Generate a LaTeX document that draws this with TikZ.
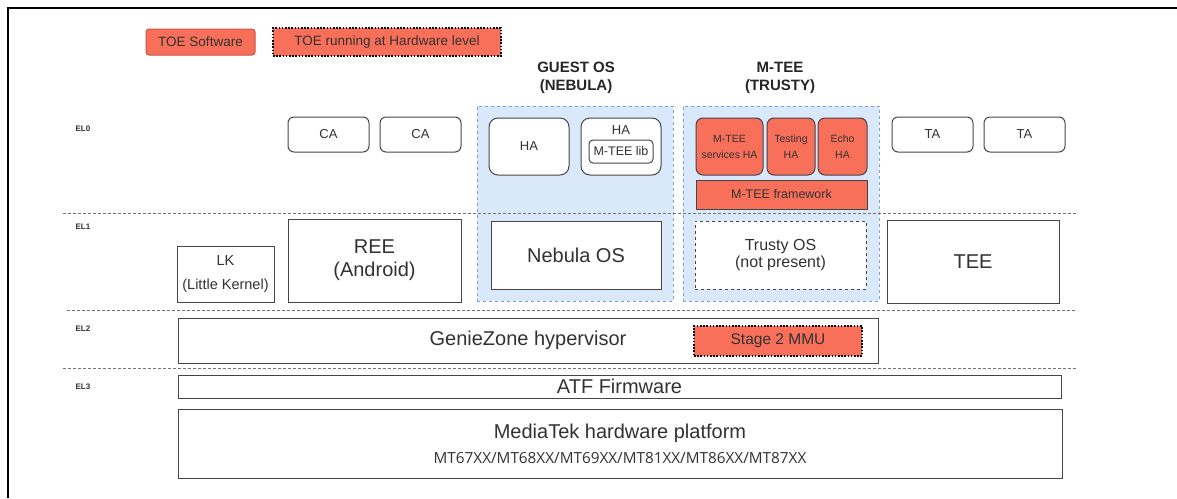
\documentclass[tikz,border=0pt]{standalone}
\usepackage{fontspec}
\setmainfont{Liberation Sans}
\newfontfamily\chipfont{Open Sans}
\usepackage{tikz}
\usetikzlibrary{positioning}
\definecolor{TOERed}{RGB}{248,111,90}
\definecolor{TOEEdge}{RGB}{200,85,70}
\definecolor{ZoneFill}{RGB}{218,232,252}
\definecolor{ZoneEdge}{RGB}{120,160,220}
\definecolor{BoxGray}{RGB}{70,70,70}
\definecolor{TxtGray}{RGB}{50,50,50}

\begin{document}
\begin{tikzpicture}[x=1pt, y=-1pt,
          box/.style={draw=BoxGray, line width=1pt, fill=white, inner sep=0pt,
                      text=TxtGray, align=center, font=\fontsize{20}{23}\selectfont},
          app/.style={box, rounded corners=6pt, font=\fontsize{13}{15}\selectfont},
          toeapp/.style={app, fill=TOERed, rounded corners=7pt,
                      font=\fontsize{10.5}{16}\selectfont},
          hwlevel/.style={box, fill=TOERed, draw=black, line width=2.4pt,
                      dash pattern=on 1.6pt off 1.6pt},
          zone/.style={draw=ZoneEdge, fill=ZoneFill, dashed, line width=0.8pt,
                      inner sep=0pt},
          heading/.style={font=\bfseries\fontsize{15}{18}\selectfont, align=center,
                      text=black!85},
          elvl/.style={anchor=west, font=\bfseries\fontsize{8}{9}\selectfont,
                      text=TxtGray},
          elsep/.style={draw=black!55, line width=0.8pt, dash pattern=on 3pt off 2pt}
        ]
        \useasboundingbox (0,0) rectangle (1177,498);
        \draw[line width=2.5pt] (8,498) -- (8,8) -- (1177,8);

        % Legend
        \node[box, fill=TOERed, draw=TOEEdge, rounded corners=3pt,
              minimum width=109pt, minimum height=26pt,
              font=\fontsize{13.5}{15}\selectfont] (toesw) at (200.5,42) {TOE Software};
        \node[hwlevel, minimum width=228pt, minimum height=28pt,
              font=\fontsize{13.5}{15}\selectfont] (toehw) at (387,42)
              {TOE running at Hardware level};

        % Guest OS and M-TEE areas
        \node[heading] (guesthd) at (576,78) {GUEST OS\\(NEBULA)};
        \node[heading] (mteehd)  at (780,78) {M-TEE\\(TRUSTY)};
        \node[zone, minimum width=196pt, minimum height=195pt] (guest) at (575,203.5) {};
        \node[zone, minimum width=196pt, minimum height=195pt] (mtee)  at (781,203.5) {};

        % Exception level separators
        \draw[elsep] (63,213) -- (1077,213);
        \draw[elsep] (67,310) -- (1077,310);
        \draw[elsep] (63,368.5) -- (1077,368.5);

        \node[elvl] (el0) at (72,129) {EL0};
        \node[elvl] (el1) at (72,227) {EL1};
        \node[elvl] (el2) at (72,329) {EL2};
        \node[elvl] (el3) at (72,387) {EL3};

        % EL0 applications
        \node[app, minimum width=81pt, minimum height=35pt] (ca1) at (328.5,134.5) {CA};
        \node[app, minimum width=81pt, minimum height=35pt] (ca2) at (420.5,134.5) {CA};
        \node[app, rounded corners=9pt, minimum width=80pt, minimum height=57pt]
              (ha1) at (529,146.5) {HA};
        \node[app, rounded corners=9pt, minimum width=80pt, minimum height=57pt]
              (ha2) at (621,146.5) {};
        \node[text=TxtGray, font=\fontsize{13}{15}\selectfont] (ha2txt) at (621,130) {HA};
        \node[app, rounded corners=4pt, minimum width=64pt, minimum height=23pt,
              font=\fontsize{12.5}{14}\selectfont] (mteelib) at (621,151.5) {M-TEE lib};
        \node[toeapp, minimum width=67pt, minimum height=57pt]
              (mtsvc) at (729.5,146.5) {M-TEE\\services HA};
        \node[toeapp, minimum width=48pt, minimum height=57pt]
              (mttest) at (791,146.5) {Testing\\HA};
        \node[toeapp, minimum width=49pt, minimum height=57pt]
              (mtecho) at (842.5,146.5) {Echo\\HA};
        \node[box, fill=TOERed, minimum width=171pt, minimum height=29pt,
              font=\fontsize{12.5}{14}\selectfont] (mtfw) at (781.5,194.5) {M-TEE framework};
        \node[app, minimum width=81pt, minimum height=35pt] (ta1) at (932.5,134.5) {TA};
        \node[app, minimum width=81pt, minimum height=35pt] (ta2) at (1024.5,134.5) {TA};

        % EL1 kernels
        \node[box, minimum width=97pt, minimum height=56pt,
              font=\fontsize{14.5}{24}\selectfont] (lk) at (225.5,274) {LK\\(Little Kernel)};
        \node[box, minimum width=173pt, minimum height=83pt] (ree) at (374.5,260.5)
              {REE\\(Android)};
        \node[box, minimum width=170pt, minimum height=68pt] (nebula) at (576,255)
              {Nebula OS};
        \node[box, dashed, minimum width=171pt, minimum height=68pt,
              font=\fontsize{16}{17.5}\selectfont] (trusty) at (780.5,255)
              {Trusty OS\\(not present)};
        \node[box, minimum width=172pt, minimum height=83pt] (tee) at (973,261.5) {TEE};

        % EL2 and EL3
        \node[box, minimum width=700pt, minimum height=45pt] (genie) at (528,340.5)
              {GenieZone hypervisor};
        \node[hwlevel, minimum width=168pt, minimum height=30pt,
              font=\fontsize{15.5}{17}\selectfont] (s2mmu) at (778,341) {Stage 2 MMU};
        \node[box, minimum width=883pt, minimum height=23pt] (atf) at (619.5,386.5)
              {ATF Firmware};
        \node[box, minimum width=884pt, minimum height=69pt] (hw) at (620,443.5)
              {MediaTek hardware platform\\[2pt]
               {\chipfont\fontsize{15.3}{17}\selectfont MT67XX/MT68XX/MT69XX/MT81XX/MT86XX/MT87XX}};
      \end{tikzpicture}
\end{document}
